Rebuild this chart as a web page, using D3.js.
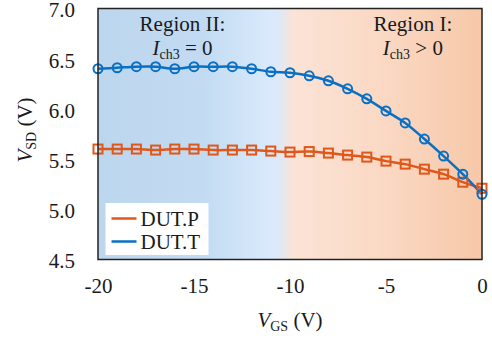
<!DOCTYPE html>
<html>
<head>
<meta charset="utf-8">
<script src="https://cdn.jsdelivr.net/npm/d3@7"></script>
<style>
  body { margin: 0; background: #fff; }
  svg text { font-family: "Liberation Serif", "Times New Roman", Times, serif !important; fill: #1a1a1a; }
</style>
</head>
<body>
<svg id="chart"></svg>
<script>
// Data
const vgs = d3.range(-20, 1, 1);
const dutP = [5.60, 5.60, 5.60, 5.59, 5.60, 5.60, 5.59, 5.59, 5.59, 5.58, 5.57,
              5.575, 5.56, 5.54, 5.52, 5.48, 5.45, 5.40, 5.35, 5.27, 5.21];
const dutT = [6.40, 6.41, 6.42, 6.42, 6.40, 6.42, 6.42, 6.42, 6.40, 6.37, 6.36,
              6.33, 6.28, 6.20, 6.10, 5.98, 5.86, 5.70, 5.53, 5.35, 5.15];
const xTicks = [-20, -15, -10, -5, 0];
const yTicks = [4.5, 5.0, 5.5, 6.0, 6.5, 7.0];
const seriesNames = ["DUT.P", "DUT.T"];
const seriesColors = ["#e0571b", "#0a70c4"];

const width = 492, height = 338;
const margin = {top: 8.5, right: 10, bottom: 78.5, left: 98};
const innerW = width - margin.left - margin.right;
const innerH = height - margin.top - margin.bottom;
const serif = '"Liberation Serif", "Times New Roman", Times, serif';

const svg = d3.select("#chart").attr("width", width).attr("height", height)
    .attr("font-family", serif);
const chart = svg.append("g").attr("transform", `translate(${margin.left},${margin.top})`);

const xScale = d3.scaleLinear().domain([-20, 0]).range([0, innerW]);
const yScale = d3.scaleLinear().domain([4.5, 7.0]).range([innerH, 0]);

// background gradient (region II blue -> region I peach)
const grad = svg.append("defs").append("linearGradient")
    .attr("id", "bg").attr("x1", "0%").attr("x2", "100%");
const stop = (v, c) => grad.append("stop")
    .attr("offset", `${(xScale(v) / innerW) * 100}%`).attr("stop-color", c);
stop(-20, "#bcd6ee");
stop(-14.5, "#c2dbf2");
stop(-11.0, "#daeafc");
stop(-10.6, "#dce9f8");
stop(-9.8, "#fbe3d6");
stop(-5, "#fad8c3");
stop(0, "#f7c8a8");

chart.append("rect")
    .attr("width", innerW).attr("height", innerH)
    .attr("fill", "url(#bg)");

// lines + markers
const line = d3.line()
    .x((d, i) => xScale(vgs[i]))
    .y(d => yScale(d))
    .curve(d3.curveCatmullRom);

[dutP, dutT].forEach((vals, k) => {
  chart.append("path")
      .datum(vals)
      .attr("d", line)
      .attr("fill", "none")
      .attr("stroke", seriesColors[k])
      .attr("stroke-width", 2.5);
});

chart.append("g").selectAll("rect")
    .data(dutP)
    .join("rect")
    .attr("x", (d, i) => xScale(vgs[i]) - 4.5)
    .attr("y", d => yScale(d) - 4.5)
    .attr("width", 9).attr("height", 9)
    .attr("fill", "none")
    .attr("stroke", seriesColors[0])
    .attr("stroke-width", 2);

chart.append("g").selectAll("circle")
    .data(dutT)
    .join("circle")
    .attr("cx", (d, i) => xScale(vgs[i]))
    .attr("cy", d => yScale(d))
    .attr("r", 4.5)
    .attr("fill", "none")
    .attr("stroke", seriesColors[1])
    .attr("stroke-width", 2);

// frame
chart.append("rect")
    .attr("width", innerW).attr("height", innerH)
    .attr("fill", "none").attr("stroke", "#222").attr("stroke-width", 1.5);

// axes (labels only)
const xAxis = d3.axisBottom(xScale).tickValues(xTicks).tickSize(0).tickPadding(19)
    .tickFormat(d => d3.format("d")(d).replace("−", "-"));
const xAxisG = chart.append("g").attr("transform", `translate(0,${innerH})`).call(xAxis);
const yAxis = d3.axisLeft(yScale).tickValues(yTicks).tickSize(0).tickPadding(23)
    .tickFormat(d3.format(".1f"));
const yAxisG = chart.append("g").call(yAxis);
[xAxisG, yAxisG].forEach(g => {
  g.attr("font-family", serif).attr("font-size", 21);
  g.select(".domain").remove();
  g.selectAll("text").attr("fill", "#1a1a1a");
});
yAxisG.selectAll("text").attr("dy", "0.4em");

// axis titles
const xTitle = svg.append("text")
    .attr("x", margin.left + innerW / 2).attr("y", 327)
    .attr("text-anchor", "middle").style("font-size", "21px");
xTitle.append("tspan").style("font-style", "italic").text("V");
xTitle.append("tspan").attr("dy", 4).style("font-size", "14px").text("GS");
xTitle.append("tspan").attr("dy", -4).text(" (V)");

const yTitle = svg.append("text")
    .attr("transform", `translate(32,${margin.top + innerH / 2 - 4}) rotate(-90)`)
    .attr("text-anchor", "middle").style("font-size", "21px");
yTitle.append("tspan").style("font-style", "italic").text("V");
yTitle.append("tspan").attr("dy", 4).style("font-size", "14px").text("SD");
yTitle.append("tspan").attr("dy", -4).text(" (V)");

// region annotations
function regionLabel(xv, title, rel) {
  const cx = margin.left + xScale(xv);
  svg.append("text").attr("x", cx).attr("y", 31)
      .attr("text-anchor", "middle").style("font-size", "21px").text(title);
  const t = svg.append("text").attr("x", cx).attr("y", 55)
      .attr("text-anchor", "middle").style("font-size", "21px");
  t.append("tspan").style("font-style", "italic").text("I");
  t.append("tspan").attr("dy", 4).style("font-size", "14px").text("ch3");
  t.append("tspan").attr("dy", -4).text(` ${rel} 0`);
}
regionLabel(-15.6, "Region II:", "=");
regionLabel(-3.6, "Region I:", ">");

// legend
const legend = svg.append("g").attr("transform", "translate(105.5,203)");
legend.append("rect").attr("width", 103).attr("height", 52).attr("fill", "#fff");
seriesNames.forEach((name, i) => {
  const y = 15.5 + i * 23;
  legend.append("line").attr("x1", 6).attr("x2", 31).attr("y1", y).attr("y2", y)
      .attr("stroke", seriesColors[i]).attr("stroke-width", 2.5);
  legend.append("text").attr("x", 35).attr("y", y + 7)
      .style("font-size", "21px").text(name);
});
</script>
</body>
</html>
